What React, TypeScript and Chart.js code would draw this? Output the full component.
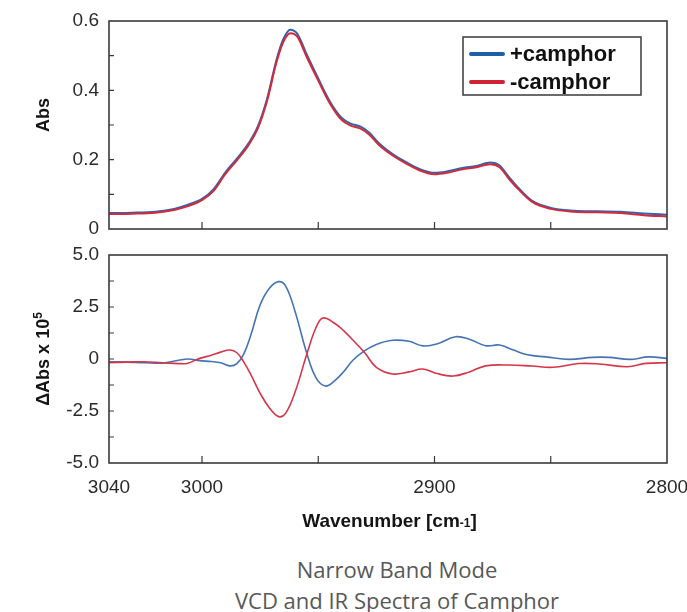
import React, { useEffect, useRef } from 'react';
import { Chart, registerables } from 'chart.js';

Chart.register(...registerables);

// ---------- data ----------
const seriesLabels = ['+camphor', '-camphor'];

const absWavenumbers = [3040, 3030, 3020, 3012, 3006, 3000, 2995, 2990, 2985, 2980, 2976, 2972, 2968, 2965, 2962, 2959, 2955, 2950, 2945, 2940, 2936, 2932, 2928, 2924, 2918, 2912, 2906, 2900, 2894, 2888, 2882, 2876, 2872, 2868, 2864, 2858, 2850, 2840, 2830, 2820, 2810, 2800];
const absPlus = [0.046, 0.047, 0.050, 0.058, 0.070, 0.087, 0.115, 0.163, 0.203, 0.247, 0.296, 0.376, 0.487, 0.548, 0.575, 0.563, 0.504, 0.434, 0.368, 0.321, 0.304, 0.296, 0.278, 0.248, 0.216, 0.192, 0.172, 0.162, 0.167, 0.176, 0.182, 0.192, 0.183, 0.150, 0.119, 0.081, 0.061, 0.053, 0.051, 0.050, 0.045, 0.041];
const absMinus = [0.043, 0.044, 0.047, 0.055, 0.066, 0.083, 0.110, 0.158, 0.198, 0.242, 0.290, 0.370, 0.480, 0.540, 0.565, 0.555, 0.497, 0.428, 0.362, 0.315, 0.298, 0.290, 0.272, 0.243, 0.212, 0.188, 0.168, 0.158, 0.163, 0.172, 0.178, 0.187, 0.178, 0.145, 0.115, 0.078, 0.058, 0.050, 0.048, 0.046, 0.040, 0.036];

const vcdPlusWavenumbers = [3040, 3032, 3025, 3017, 3010, 3006, 3001, 2996, 2992, 2988, 2985, 2982, 2979, 2975, 2971, 2967, 2964, 2960, 2955, 2951, 2947, 2943, 2939, 2935, 2930, 2925, 2918, 2911, 2905, 2899, 2891, 2885, 2878, 2872, 2866, 2860, 2852, 2842, 2832, 2825, 2816, 2808, 2800];
const vcdPlus = [-0.13, -0.15, -0.18, -0.2, -0.06, 0.0, -0.08, -0.12, -0.18, -0.33, -0.22, 0.25, 1.15, 2.6, 3.4, 3.72, 3.5, 2.3, 0.3, -0.9, -1.3, -1.05, -0.6, -0.05, 0.4, 0.7, 0.9, 0.85, 0.63, 0.72, 1.07, 0.95, 0.64, 0.67, 0.43, 0.2, 0.1, -0.02, 0.08, 0.08, -0.02, 0.1, 0.03];

const vcdMinusWavenumbers = [3040, 3032, 3025, 3017, 3010, 3006, 3001, 2996, 2992, 2988, 2985, 2982, 2979, 2975, 2971, 2967, 2964, 2960, 2955, 2951, 2948, 2943, 2939, 2935, 2930, 2925, 2918, 2911, 2905, 2899, 2892, 2885, 2878, 2868, 2858, 2849, 2838, 2829, 2817, 2809, 2800];
const vcdMinus = [-0.18, -0.15, -0.13, -0.18, -0.22, -0.2, 0.03, 0.18, 0.33, 0.43, 0.3, -0.15, -0.75, -1.65, -2.35, -2.77, -2.6, -1.6, 0.2, 1.5, 1.97, 1.72, 1.35, 0.9, 0.3, -0.4, -0.72, -0.62, -0.48, -0.7, -0.82, -0.62, -0.33, -0.29, -0.34, -0.4, -0.22, -0.24, -0.37, -0.21, -0.18];

const wnLabelTicks = [3040, 3000, 2900, 2800];
const wnInnerTicks = [3000, 2950, 2900, 2850];
const absMinorTicks = [0.1, 0.2, 0.3, 0.4, 0.5];
const vcdMinorTicks = [-3.75, -2.5, -1.25, 0, 1.25, 2.5, 3.75];

const captionLines = ['Narrow Band Mode', 'VCD and IR Spectra of Camphor'];

// ---------- styles ----------
const FONT = "'Liberation Sans', Arial, Helvetica, sans-serif";
const BLUE = '#2f64ad';
const RED = '#d42a3b';
const BLUE_THIN = '#4674b3';
const RED_THIN = '#d5364a';
const FRAME = '#3a3a3a';
const TICK_COLOR = '#2b2b2b';

type Part = { text: string; size: number; dy?: number };

function drawRich(ctx: CanvasRenderingContext2D, parts: Part[], cx: number, cy: number, rotate: boolean) {
  ctx.save();
  ctx.translate(cx, cy);
  if (rotate) ctx.rotate(-Math.PI / 2);
  ctx.fillStyle = '#151515';
  ctx.textBaseline = 'alphabetic';
  ctx.textAlign = 'left';
  const widths = parts.map((p) => {
    ctx.font = `bold ${p.size}px ${FONT}`;
    return ctx.measureText(p.text).width;
  });
  const total = widths.reduce((a, b) => a + b, 0);
  const mainSize = parts[0].size;
  const base = (mainSize * 0.716) / 2;
  let x = -total / 2;
  parts.forEach((p, i) => {
    ctx.font = `bold ${p.size}px ${FONT}`;
    ctx.fillText(p.text, x, base + (p.dy || 0));
    x += widths[i];
  });
  ctx.restore();
}

const decorPlugin = {
  id: 'decor',
  afterDraw(chart: any, _args: any, opts: any) {
    const { ctx, chartArea: a } = chart;
    const xs = chart.scales.x;
    const ys = chart.scales.y;
    ctx.save();
    ctx.strokeStyle = FRAME;
    ctx.lineWidth = 1.2;
    ctx.beginPath();
    for (const v of opts.xMarks) {
      const px = xs.getPixelForValue(v);
      ctx.moveTo(px, a.bottom);
      ctx.lineTo(px, a.bottom - 7);
    }
    for (const v of opts.yMarks) {
      const py = ys.getPixelForValue(v);
      ctx.moveTo(a.left, py);
      ctx.lineTo(a.left + 5, py);
    }
    ctx.stroke();
    ctx.lineWidth = 1.6;
    ctx.strokeRect(a.left, a.top, a.right - a.left, a.bottom - a.top);

    if (opts.yTitle) {
      drawRich(ctx, opts.yTitle, 43, (a.top + a.bottom) / 2 + (opts.yTitleShift || 0), true);
    }
    if (opts.xTitle) {
      drawRich(ctx, opts.xTitle, 389.5, a.bottom + 57, false);
    }
    if (opts.legend) {
      const left = a.right - 204;
      const top = a.top + 16;
      ctx.lineWidth = 1.5;
      ctx.strokeStyle = FRAME;
      ctx.strokeRect(left, top, 178, 58);
      const rows = [top + 17, top + 45];
      chart.data.datasets.forEach((ds: any, i: number) => {
        const y = rows[i];
        ctx.beginPath();
        ctx.lineCap = 'round';
        ctx.lineWidth = 4;
        ctx.strokeStyle = opts.legendColors[i];
        ctx.moveTo(left + 8, y);
        ctx.lineTo(left + 40, y);
        ctx.stroke();
        ctx.fillStyle = '#111';
        ctx.font = `bold 22px ${FONT}`;
        ctx.textAlign = 'left';
        ctx.textBaseline = 'alphabetic';
        ctx.fillText(ds.label, left + 47, y + 7);
      });
    }
    ctx.restore();
  },
};

const tickFont = { family: FONT, size: 19 };
const fmt = (v: any) => (v === 0 ? '0' : Number(v).toFixed(1));

export default function App() {
  const topRef = useRef<HTMLCanvasElement>(null);
  const botRef = useRef<HTMLCanvasElement>(null);

  useEffect(() => {
    const top = new Chart(topRef.current as HTMLCanvasElement, {
      type: 'line',
      data: {
        datasets: [
          {
            label: seriesLabels[0],
            data: absWavenumbers.map((w, i) => ({ x: w, y: absPlus[i] })),
            borderColor: BLUE,
            borderWidth: 2,
            pointRadius: 0,
            cubicInterpolationMode: 'monotone',
            order: 1,
          },
          {
            label: seriesLabels[1],
            data: absWavenumbers.map((w, i) => ({ x: w, y: absMinus[i] })),
            borderColor: RED,
            borderWidth: 2,
            pointRadius: 0,
            cubicInterpolationMode: 'monotone',
            order: 0,
          },
        ],
      },
      options: {
        animation: false,
        responsive: false,
        maintainAspectRatio: false,
        events: [],
        layout: { padding: { left: 0, right: 20, top: 21, bottom: 11 } },
        plugins: {
          legend: { display: false },
          tooltip: { enabled: false },
          decor: {
            xMarks: wnInnerTicks,
            yMarks: absMinorTicks,
            yTitle: [{ text: 'Abs', size: 18 }],
            yTitleShift: -10,
            legend: true,
            legendColors: ['#1f5fa8', '#cf2233'],
          },
        } as any,
        scales: {
          x: { type: 'linear', reverse: true, min: 2800, max: 3040, display: false },
          y: {
            min: 0,
            max: 0.6,
            ticks: { stepSize: 0.2, padding: 10, font: tickFont, color: TICK_COLOR, callback: fmt },
            grid: { display: false, drawTicks: false },
            border: { display: false },
            afterFit: (s: any) => {
              s.width = 109;
              s.paddingTop = 0;
              s.paddingBottom = 0;
            },
          },
        },
      },
      plugins: [decorPlugin],
    } as any);

    const bottom = new Chart(botRef.current as HTMLCanvasElement, {
      type: 'line',
      data: {
        datasets: [
          {
            label: seriesLabels[0],
            data: vcdPlusWavenumbers.map((w, i) => ({ x: w, y: vcdPlus[i] })),
            borderColor: BLUE_THIN,
            borderWidth: 1.6,
            pointRadius: 0,
            tension: 0.4,
            order: 1,
          },
          {
            label: seriesLabels[1],
            data: vcdMinusWavenumbers.map((w, i) => ({ x: w, y: vcdMinus[i] })),
            borderColor: RED_THIN,
            borderWidth: 1.6,
            pointRadius: 0,
            tension: 0.4,
            order: 0,
          },
        ],
      },
      options: {
        animation: false,
        responsive: false,
        maintainAspectRatio: false,
        events: [],
        layout: { padding: { left: 0, right: 20, top: 15, bottom: 0 } },
        plugins: {
          legend: { display: false },
          tooltip: { enabled: false },
          decor: {
            xMarks: wnInnerTicks,
            yMarks: vcdMinorTicks,
            yTitle: [
              { text: 'ΔAbs x 10', size: 18 },
              { text: '5', size: 12, dy: -7 },
            ],
            yTitleShift: 0,
            xTitle: [
              { text: 'Wavenumber [cm', size: 19 },
              { text: '-1', size: 12, dy: 0 },
              { text: ']', size: 19 },
            ],
            legend: false,
          },
        } as any,
        scales: {
          x: {
            type: 'linear',
            reverse: true,
            min: 2800,
            max: 3040,
            afterBuildTicks: (s: any) => {
              s.ticks = wnLabelTicks.map((v) => ({ value: v }));
            },
            ticks: { padding: 13, font: tickFont, color: TICK_COLOR, maxRotation: 0, autoSkip: false, callback: (v: any) => String(v) },
            grid: { display: false, drawTicks: false },
            border: { display: false },
            afterFit: (s: any) => {
              s.height = 77;
              s.paddingLeft = 0;
              s.paddingRight = 0;
            },
          },
          y: {
            min: -5,
            max: 5,
            ticks: { stepSize: 2.5, padding: 10, font: tickFont, color: TICK_COLOR, callback: fmt },
            grid: { display: false, drawTicks: false },
            border: { display: false },
            afterFit: (s: any) => {
              s.width = 109;
              s.paddingTop = 0;
              s.paddingBottom = 0;
            },
          },
        },
      },
      plugins: [decorPlugin],
    } as any);

    return () => {
      top.destroy();
      bottom.destroy();
    };
  }, []);

  return (
    <div style={{ position: 'absolute', left: 0, top: 0, width: 687, height: 612, background: '#fff', overflow: 'hidden' }}>
      <canvas ref={topRef} width={687} height={240} style={{ position: 'absolute', left: 0, top: 0, display: 'block' }} />
      <canvas ref={botRef} width={687} height={300} style={{ position: 'absolute', left: 0, top: 240, display: 'block' }} />
      <div
        style={{
          position: 'absolute',
          left: 97,
          top: 554,
          width: 600,
          textAlign: 'center',
          fontFamily: "'Open Sans', Lato, sans-serif",
          fontSize: 22,
          lineHeight: '31px',
          color: '#585858',
          whiteSpace: 'nowrap',
        }}
      >
        {captionLines.map((l) => (
          <div key={l}>{l}</div>
        ))}
      </div>
    </div>
  );
}
